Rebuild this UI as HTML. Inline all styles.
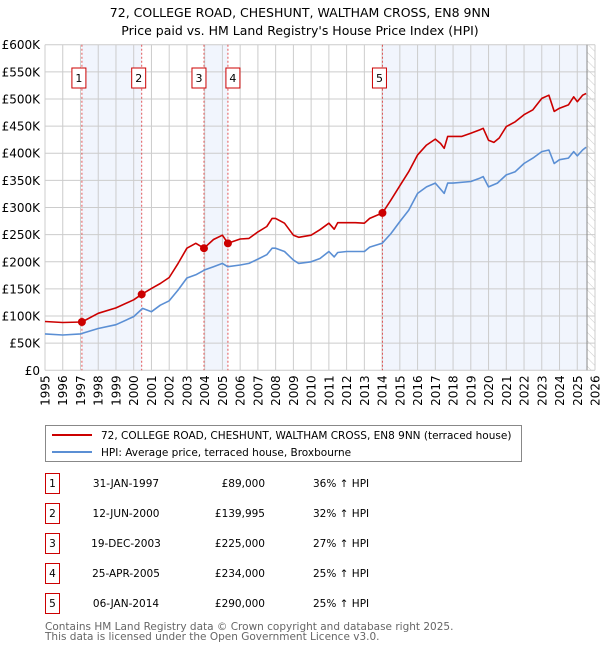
<!DOCTYPE html>
<html><head><meta charset="utf-8"><style>
body{margin:0;width:600px;height:650px;background:#fff;font-family:"Liberation Sans","DejaVu Sans",sans-serif;overflow:hidden}
svg text{font-family:"DejaVu Sans","Liberation Sans",sans-serif}
</style></head><body>
<svg id="c" width="600" height="650"></svg>
<script>
const redYears=[1995,1996,1997.08,1998,1999,2000,2000.45,2001,2001.5,2002,2002.5,2003,2003.5,2003.96,2004.5,2005,2005.31,2006,2006.5,2007,2007.5,2007.8,2008,2008.5,2009,2009.3,2010,2010.5,2011,2011.3,2011.5,2012,2012.5,2013,2013.3,2014.02,2014.5,2015,2015.5,2016,2016.5,2017,2017.3,2017.5,2017.7,2018,2018.5,2019,2019.5,2019.7,2020,2020.3,2020.6,2021,2021.5,2022,2022.5,2023,2023.4,2023.7,2024,2024.5,2024.8,2025,2025.3,2025.5];
const redValues=[90,88,89,105,115,130,140,151,160,171,197,225,234,225,241,249,234,242,243,255,265,280,280,271,249,245,249,259,271,260,272,272,272,271,280,290,314,340,366,397,415,426,418,409,431,431,431,437,443,446,424,420,428,449,458,471,480,501,507,477,483,489,504,495,507,510];
const hpiYears=[1995,1996,1997,1998,1999,2000,2000.5,2001,2001.5,2002,2002.5,2003,2003.5,2004,2004.5,2005,2005.3,2006,2006.5,2007,2007.5,2007.8,2008,2008.5,2009,2009.3,2010,2010.5,2011,2011.3,2011.5,2012,2013,2013.3,2014,2014.5,2015,2015.5,2016,2016.5,2017,2017.5,2017.7,2018,2019,2019.5,2019.7,2020,2020.5,2021,2021.5,2022,2022.5,2023,2023.4,2023.7,2024,2024.5,2024.8,2025,2025.3,2025.5];
const hpiValues=[67,65,67,77,84,99,114,108,120,128,148,170,176,185,191,197,191,194,197,205,213,225,225,219,203,197,200,206,219,209,217,219,219,227,234,252,274,295,326,338,345,326,345,345,348,354,357,338,345,360,366,381,391,403,406,381,388,391,403,395,406,411];
const saleLabels=["1","2","3","4","5"];
const saleYears=[1997.08,2000.45,2003.96,2005.31,2014.02];
const saleValues=[89,139.995,225,234,290];
const yTicks=[0,50,100,150,200,250,300,350,400,450,500,550,600];
const xTicks=[1995,1996,1997,1998,1999,2000,2001,2002,2003,2004,2005,2006,2007,2008,2009,2010,2011,2012,2013,2014,2015,2016,2017,2018,2019,2020,2021,2022,2023,2024,2025,2026];

const NS="http://www.w3.org/2000/svg";
const svg=document.getElementById('c');
const L=45,R=595,T=44.7,B=370.3;
const X=y=>L+(y-1995)/(2026-1995)*(R-L);
const Y=v=>B-v/600*(B-T);
function el(tag,attrs,parent){const e=document.createElementNS(NS,tag);for(const k in attrs)e.setAttribute(k,attrs[k]);(parent||svg).appendChild(e);return e;}
function txt(s,attrs,parent){const e=el('text',attrs,parent);e.textContent=s;return e;}

let t=txt("72, COLLEGE ROAD, CHESHUNT, WALTHAM CROSS, EN8 9NN",{x:300,y:17,'text-anchor':'middle','font-size':12.5,fill:'#000'});

t=txt("Price paid vs. HM Land Registry's House Price Index (HPI)",{x:300,y:35,'text-anchor':'middle','font-size':12.5,fill:'#000'});


// shading
const bands=[[saleYears[0],saleYears[1]],[saleYears[2],saleYears[3]],[saleYears[4],2025.55]];
bands.forEach(b=>{const r=el('rect',{x:X(b[0]),y:T,width:X(b[1])-X(b[0]),height:B-T,fill:'#eef3fc',opacity:0.8});
});
// hatch
const defs=el('defs',{});
const pat=el('pattern',{id:'h',width:6,height:6,patternUnits:'userSpaceOnUse',patternTransform:'rotate(-45)'},defs);
el('line',{x1:0,y1:0,x2:0,y2:6,stroke:'#ccc','stroke-width':1},pat);
let hr=el('rect',{x:X(2025.55),y:T,width:R-X(2025.55),height:B-T,fill:'url(#h)'});


// grid
yTicks.forEach(v=>{const g=el('line',{x1:L,x2:R,y1:Y(v),y2:Y(v),stroke:'#ccc','stroke-width':1});

const tl=txt(v===0?'£0':'£'+v+'K',{x:40,y:Y(v)+4.5,'text-anchor':'end','font-size':12,fill:'#000'});
});
xTicks.forEach(y=>{const g=el('line',{x1:X(y),x2:X(y),y1:T,y2:B,stroke:'#ccc','stroke-width':1});

const tl=txt(String(y),{x:0,y:0,'text-anchor':'end','font-size':12,fill:'#000',transform:`translate(${X(y)+4.5},${B+5}) rotate(-90)`});
});
let ax=el('line',{x1:X(2025.55),x2:X(2025.55),y1:T,y2:B,stroke:'#888','stroke-width':1});


// sale vlines
saleYears.forEach((y,i)=>{const l=el('line',{x1:X(y),x2:X(y),y1:T,y2:B,stroke:'#e03030','stroke-width':1,'stroke-dasharray':'2,2',opacity:0.8});

const bx=X(y)+(i===2?-5:i===3?5:-3)-7;
const r=el('rect',{x:bx,y:68,width:14,height:20,fill:'#fff',stroke:'#cc0000','stroke-width':1});

const tl=txt(saleLabels[i],{x:bx+7,y:82,'text-anchor':'middle','font-size':11,fill:'#000'});
});

function path(xs,vs,color,name){const d=xs.map((x,i)=>(i?'L':'M')+X(x).toFixed(1)+','+Y(vs[i]).toFixed(1)).join('');
const p=el('path',{d:d,fill:'none',stroke:color,'stroke-width':1.6,'stroke-linejoin':'round'});
}
path(hpiYears,hpiValues,'#5b8fd4','hpi-line');
path(redYears,redValues,'#cc0000','price-paid-line');
saleYears.forEach((y,i)=>{const c=el('circle',{cx:X(y),cy:Y(saleValues[i]),r:4,fill:'#cc0000'});
});

// legend
const lg=el('g',{});
el('rect',{x:45.5,y:425.5,width:476,height:36,fill:'#fff',stroke:'#888','stroke-width':1},lg);
el('line',{x1:52,x2:92,y1:435,y2:435,stroke:'#cc0000','stroke-width':2},lg);
el('line',{x1:52,x2:92,y1:452,y2:452,stroke:'#5b8fd4','stroke-width':2},lg);
t=txt("72, COLLEGE ROAD, CHESHUNT, WALTHAM CROSS, EN8 9NN (terraced house)",{x:101,y:439,'font-size':10.5,fill:'#000'},lg);

t=txt("HPI: Average price, terraced house, Broxbourne",{x:101,y:456,'font-size':10.5,fill:'#000'},lg);


// table
const dates=["31-JAN-1997","12-JUN-2000","19-DEC-2003","25-APR-2005","06-JAN-2014"];
const prices=["£89,000","£139,995","£225,000","£234,000","£290,000"];
const pct=["36% ↑ HPI","32% ↑ HPI","27% ↑ HPI","25% ↑ HPI","25% ↑ HPI"];
dates.forEach((d,i)=>{const y=483+i*30;const g=el('g',{});

el('rect',{x:45.5,y:y-9.5,width:14,height:20,fill:'#fff',stroke:'#cc0000','stroke-width':1},g);
txt(saleLabels[i],{x:52.5,y:y+4,'text-anchor':'middle','font-size':10.5,fill:'#000'},g);
txt(d,{x:126,y:y+4,'text-anchor':'middle','font-size':10.5,fill:'#000'},g);
txt(prices[i],{x:265,y:y+4,'text-anchor':'end','font-size':10.5,fill:'#000'},g);
txt(pct[i],{x:313,y:y+4,'font-size':10.5,fill:'#000'},g);});
t=txt("Contains HM Land Registry data © Crown copyright and database right 2025.",{x:45,y:630,'font-size':10.5,fill:'#666'});

t=txt("This data is licensed under the Open Government Licence v3.0.",{x:45,y:640,'font-size':10.5,fill:'#666'});

</script>
</body></html>
